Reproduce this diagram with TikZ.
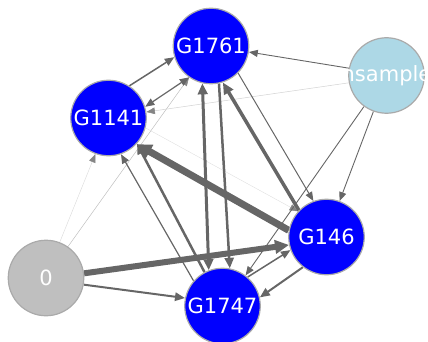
\documentclass[tikz,border=0pt]{standalone}
\usepackage{fontspec}
\setmainfont{DejaVu Sans}
\usetikzlibrary{arrows.meta, backgrounds}
\definecolor{edgegray}{HTML}{666666}
\definecolor{rimgray}{HTML}{AAAAAA}
\definecolor{geneblue}{HTML}{0000FF}
\definecolor{zerogray}{HTML}{BFBFBF}
\definecolor{sampleblue}{HTML}{ADD8E6}

\begin{document}
\begin{tikzpicture}[x=1pt, y=-1pt,
		>={Triangle[length=8pt 1, width=6pt 1.2]},
		gene/.style={circle, draw=rimgray, line width=1.2pt, fill=geneblue,
			minimum size=75.5pt, inner sep=0pt, text=white,
			font=\fontsize{21}{25}\selectfont},
		link/.style={draw=edgegray, ->},
		faint/.style={-{Triangle[length=8pt 1, width=6pt 1.2, color=edgegray!80]}}]
		\useasboundingbox (0, 0) rectangle (428, 342);
		% the six nodes
		\node[gene] (G1761) at (211, 46) {G1761};
		\node[gene] (G1141) at (108.5, 118) {G1141};
		\node[gene, fill=sampleblue] (nsample) at (386.5, 75.5) {\makebox[0pt]{nsample}};
		\node[gene] (G146) at (326.5, 237) {G146};
		\node[gene, fill=zerogray] (zero) at (46, 278) {0};
		\node[gene] (G1747) at (222.5, 306) {G1747};
		\begin{pgfonlayer}{background}
			% faint edges
			\draw[faint, draw=gray!30, line width=0.4pt] (zero.69) -- (G1141.-110);
			\draw[faint, draw=gray!50, line width=0.5pt] (zero.55) -- (G1761.-125);
			\draw[faint, draw=gray!35, line width=0.5pt] (nsample.-169) -- (G1141.9);
			\draw[faint, draw=gray!25, line width=0.4pt] (G1141.-15) -- (G146.138);
			% heavy edges
			\draw[link, line width=6pt] (zero.7) -- (G146.192);
			\draw[link, line width=7pt] (G146.170) -- (G1141.-43);
			\draw[link, line width=3.5pt] (G146.136) -- (G1761.-72);
			\draw[link, line width=3pt, <->] (G1747.111) -- (G1761.-103);
			\draw[link, line width=2.5pt] (G1761.-78) -- (G1747.79);
			\draw[link, line width=2.5pt] (G1747.118) -- (G1141.-42);
			\draw[link, line width=2pt] (zero.-10) -- (G1747.168);
			\draw[link, line width=2pt] (G146.-128) -- (G1747.13);
			\draw[link, line width=1.5pt] (G1747.49) -- (G146.-160);
			% light edges
			\draw[link, line width=1.5pt] (G1141.57) -- (G1761.197);
			\draw[link, line width=1.2pt, <->] (G1141.17) -- (G1761.-125);
			\draw[link, line width=1.2pt] (G1747.139) -- (G1141.-71);
			\draw[link, line width=1pt] (G1761.-45) -- (G146.110);
			\draw[link, line width=0.9pt] (nsample.169) -- (G1761.-9);
			\draw[link, line width=0.9pt] (nsample.-110) -- (G146.70);
			\draw[link, line width=0.9pt] (nsample.-126) -- (G1747.53);
		\end{pgfonlayer}
	\end{tikzpicture}
\end{document}
